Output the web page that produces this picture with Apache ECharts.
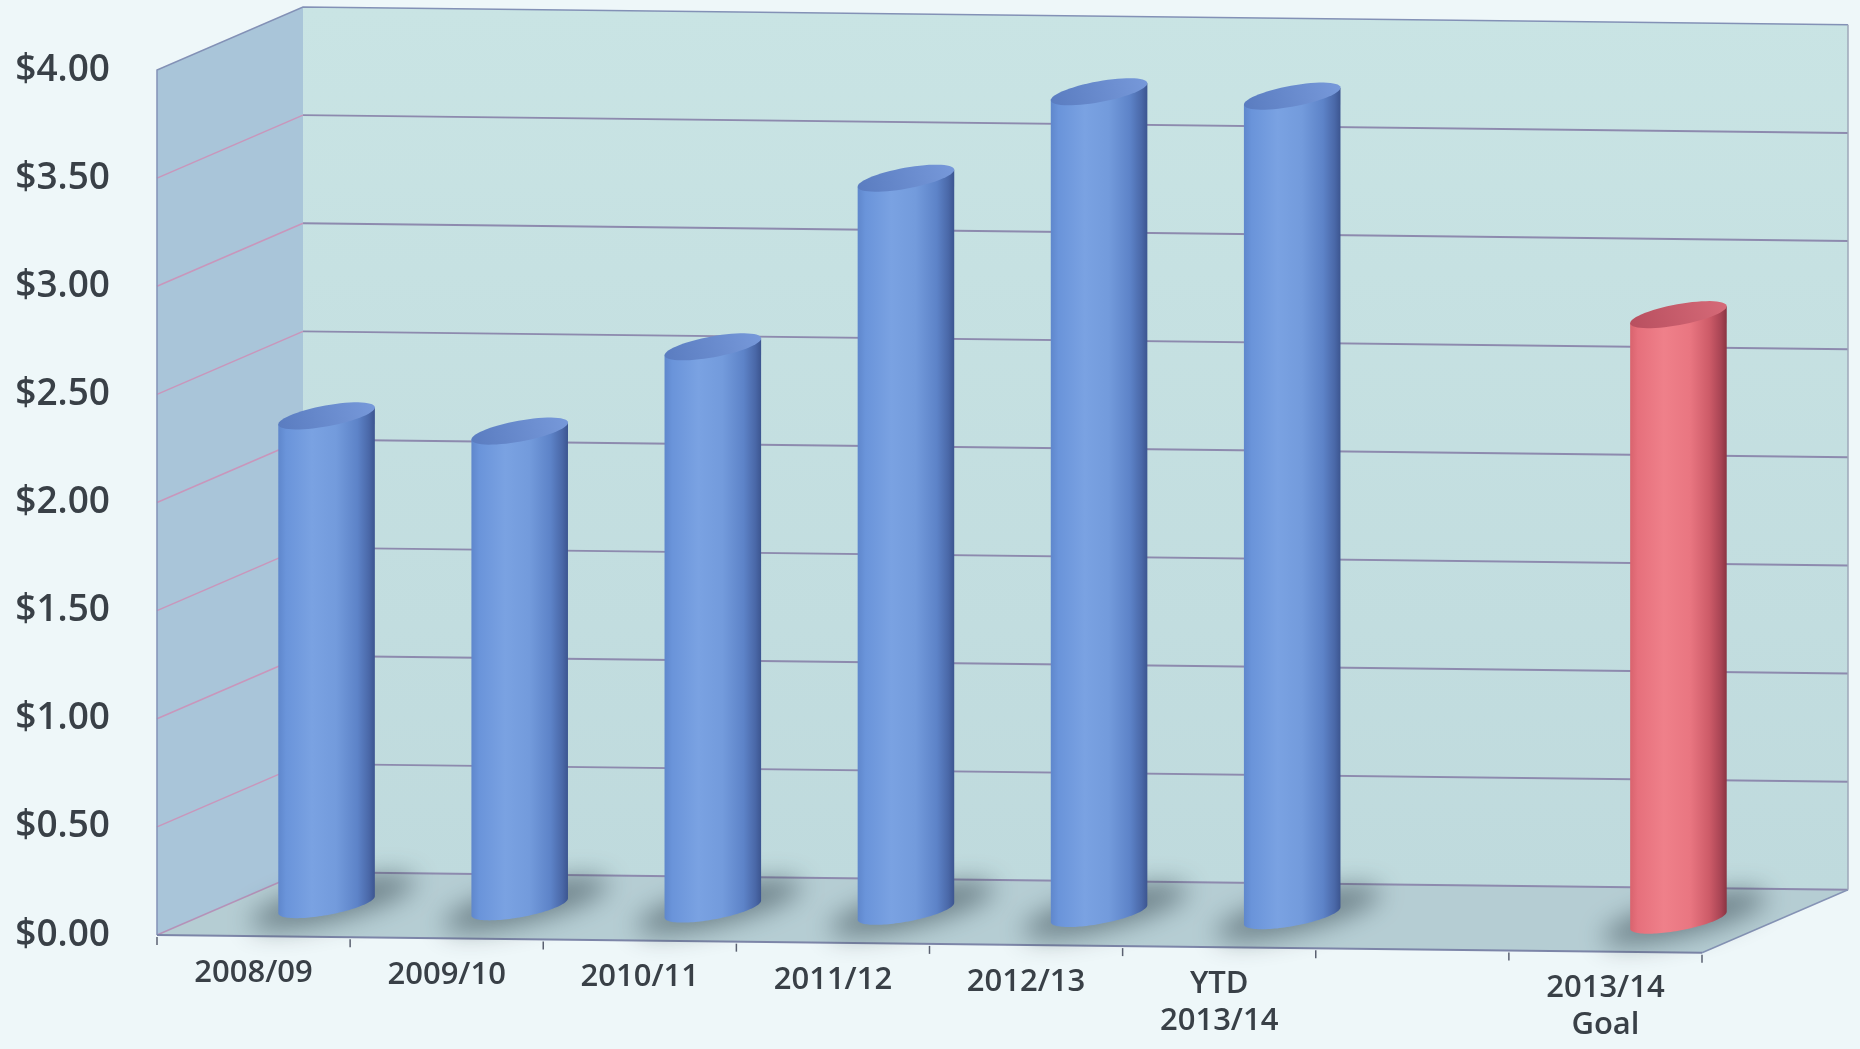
<!DOCTYPE html>
<html>
<head>
<meta charset="utf-8">
<script src="https://cdn.jsdelivr.net/npm/echarts@6/dist/echarts.min.js"></script>
<style>
  html, body { margin: 0; padding: 0; background: #eef7f9; }
  #chart { width: 1860px; height: 1049px; }
</style>
</head>
<body>
<div id="chart"></div>
<script>
// Categories along the floor (one empty slot separates the goal column)
const categories = ['2008/09', '2009/10', '2010/11', '2011/12', '2012/13', 'YTD\n2013/14', '', '2013/14\nGoal'];
// Dollar values per category
const actualValues = [2.26, 2.20, 2.60, 3.39, 3.80, 3.79, null, null];
const goalValues   = [null, null, null, null, null, null, null, 2.80];
// Value-axis ticks
const yTicks = [0, 0.5, 1, 1.5, 2, 2.5, 3, 3.5, 4];

// 3D look: screen offset from the front plane to the back wall, and a slight slope
const DEPTH = [146, -63];
const SHEAR = 0.0115;
const FONT = '"Open Sans", "DejaVu Sans", sans-serif';
const TEXT_COLOR = '#394047';

// Map a front-plane pixel (from the axes) into the sloped, depth-shifted plane
function proj(params, p, depth) {
  const x0 = params.coordSys.x;
  return [p[0] + DEPTH[0] * depth, p[1] + DEPTH[1] * depth + SHEAR * (p[0] - x0)];
}

function renderFrame(params, api) {
  const cs = params.coordSys;
  const xl = cs.x, xr = cs.x + cs.width;
  const top = yTicks[yTicks.length - 1];
  const P = (x, v, d) => proj(params, [x, api.coord([0, v])[1]], d);
  const kids = [];
  const poly = (pts, fill) => kids.push({ type: 'polygon', shape: { points: pts }, style: { fill: fill }, silent: true });
  const line = (a, b, stroke, w) => kids.push({ type: 'line', shape: { x1: a[0], y1: a[1], x2: b[0], y2: b[1] }, style: { stroke: stroke, lineWidth: w }, silent: true });

  // back wall, side wall, floor
  poly([P(xl, top, 1), P(xr, top, 1), P(xr, 0, 1), P(xl, 0, 1)], new echarts.graphic.LinearGradient(0, 0, 0, 1, [
    { offset: 0, color: '#c9e4e4' }, { offset: 1, color: '#bfdadd' }
  ]));
  poly([P(xl, top, 0), P(xl, top, 1), P(xl, 0, 1), P(xl, 0, 0)], '#a9c5d9');
  poly([P(xl, 0, 0), P(xr, 0, 0), P(xr, 0, 1), P(xl, 0, 1)], '#b5cdd3');

  // grid lines on the back and side walls
  yTicks.forEach(v => {
    if (v <= 0 || v >= top) return;
    line(P(xl, v, 1), P(xr, v, 1), '#8d8aae', 2);
    line(P(xl, v, 0), P(xl, v, 1), '#c996bb', 1.5);
  });

  // floor lines
  line(P(xl, 0, 1), P(xr, 0, 1), '#8d8aae', 2);
  line(P(xl, 0, 0), P(xl, 0, 1), '#b592b8', 1.5);
  line(P(xr, 0, 0), P(xr, 0, 1), '#8593b5', 1.5);

  // outer edges
  kids.push({
    type: 'polyline', silent: true,
    shape: { points: [P(xl, 0, 0), P(xl, top, 0), P(xl, top, 1), P(xr, top, 1)] },
    style: { stroke: '#8391b6', lineWidth: 1.5, fill: null }
  });
  line(P(xr, top, 1), P(xr, 0, 1), '#9ea7b8', 1.5);
  line(P(xl, 0, 0), P(xr, 0, 0), '#7c85a8', 2);

  return { type: 'group', children: kids };
}

function ellipseGeom(params, api) {
  const bw = api.size([1, 0])[0];
  const halfW = bw * 0.25;
  const q = 0.215;
  const vx = DEPTH[0] * q, vy = DEPTH[1] * q;
  const r = Math.sqrt(Math.max(halfW * halfW - vx * vx, 1));
  return { ux: r, uy: r * SHEAR, vx: vx, vy: vy };
}

function ellPt(c, g, t, s) {
  s = s || 1;
  return [c[0] + s * (g.ux * Math.cos(t) + g.vx * Math.sin(t)),
          c[1] + s * (g.uy * Math.cos(t) + g.vy * Math.sin(t))];
}

function renderShadow(params, api) {
  const i = api.value(0), v = api.value(1);
  if (v == null || isNaN(v)) return null;
  const g = ellipseGeom(params, api);
  const base = proj(params, api.coord([i, 0]), 0.5);
  const c = [base[0] + g.vx * 0.2, base[1] + g.vy * 0.2];
  const pts = [];
  const N = 48, SHIFT = 4000;
  for (let k = 0; k < N; k++) {
    const t = 2 * Math.PI * k / N;
    // stretched along the depth direction so it reaches front-left and back-right
    const p = [c[0] + 1.45 * g.ux * Math.cos(t) + 2.0 * g.vx * Math.sin(t),
               c[1] + 1.45 * g.uy * Math.cos(t) + 2.0 * g.vy * Math.sin(t)];
    pts.push([p[0] + SHIFT, p[1]]);
  }
  return {
    type: 'polygon', silent: true,
    shape: { points: pts },
    style: { fill: '#000', shadowColor: 'rgba(50,65,75,0.55)', shadowBlur: 26, shadowOffsetX: -SHIFT }
  };
}

function cylinderRenderer(bodyStops, topStops) {
  return function (params, api) {
    const i = api.value(0), v = api.value(1);
    if (v == null || isNaN(v)) return null;
    const g = ellipseGeom(params, api);
    const base = proj(params, api.coord([i, 0]), 0.5);
    const topC = proj(params, api.coord([i, v]), 0.5);
    const t0 = Math.atan2(g.vx, g.ux);
    const N = 60;
    const body = [ellPt(topC, g, t0)];
    for (let k = 0; k <= N; k++) body.push(ellPt(base, g, t0 - Math.PI * k / N));
    body.push(ellPt(topC, g, t0 - Math.PI));
    const cap = [];
    for (let k = 0; k < N; k++) cap.push(ellPt(topC, g, 2 * Math.PI * k / N));
    return {
      type: 'group',
      children: [
        { type: 'polygon', shape: { points: body },
          style: { fill: new echarts.graphic.LinearGradient(0, 0, 1, 0, bodyStops) } },
        { type: 'polygon', shape: { points: cap },
          style: { fill: new echarts.graphic.LinearGradient(0, 1, 1, 0, topStops) } }
      ]
    };
  };
}

const blueBody = [
  { offset: 0, color: '#5f87cc' }, { offset: 0.08, color: '#6a94da' },
  { offset: 0.35, color: '#7aa2e2' }, { offset: 0.6, color: '#739bdc' },
  { offset: 0.82, color: '#5d83c8' }, { offset: 0.94, color: '#4a68a8' },
  { offset: 1, color: '#3c5590' }
];
const blueTop = [
  { offset: 0, color: '#5a7cc0' }, { offset: 1, color: '#7799da' }
];
const redBody = [
  { offset: 0, color: '#d9636e' }, { offset: 0.08, color: '#e6707c' },
  { offset: 0.35, color: '#ef808a' }, { offset: 0.62, color: '#e97681' },
  { offset: 0.82, color: '#cd5b68' }, { offset: 0.94, color: '#a84454' },
  { offset: 1, color: '#8a3442' }
];
const redTop = [
  { offset: 0, color: '#b84f5f' }, { offset: 1, color: '#d66a78' }
];

function renderCategoryLabels(params, api) {
  const i = api.value(0);
  const bw = api.size([1, 0])[0];
  const c = api.coord([i, 0]);
  const kids = [];
  const tick = (px) => {
    const a = proj(params, [px, c[1]], 0);
    kids.push({ type: 'line', silent: true, shape: { x1: a[0], y1: a[1] + 2, x2: a[0], y2: a[1] + 10 },
      style: { stroke: '#5a6070', lineWidth: 1.5 } });
  };
  tick(c[0] - bw / 2);
  if (i === categories.length - 1) tick(c[0] + bw / 2);
  const text = categories[params.dataIndex];
  if (text) {
    const p = proj(params, c, 0);
    kids.push({
      type: 'text', silent: true,
      x: p[0], y: p[1] + 18.5,
      style: {
        text: text, align: 'center', verticalAlign: 'top',
        fontSize: 31, fontWeight: 600, fontFamily: FONT, lineHeight: 37, fill: TEXT_COLOR
      }
    });
  }
  return { type: 'group', children: kids };
}

const chart = echarts.init(document.getElementById('chart'), null, { renderer: 'canvas' });
chart.setOption({
  backgroundColor: '#eef7f9',
  animation: false,
  grid: { left: 157, top: 70, width: 1545, height: 865 },
  xAxis: {
    type: 'category', data: categories,
    axisLine: { show: false }, axisTick: { show: false },
    axisLabel: { show: false }, splitLine: { show: false }
  },
  yAxis: {
    type: 'value', min: 0, max: 4, interval: 0.5,
    axisLine: { show: false }, axisTick: { show: false }, splitLine: { show: false },
    axisLabel: {
      formatter: v => '$' + v.toFixed(2),
      fontSize: 37, fontWeight: 600, fontFamily: FONT, color: TEXT_COLOR, margin: 47
    }
  },
  series: [
    { type: 'custom', name: 'frame', renderItem: renderFrame, data: [[0, 0]], clip: false, silent: true, z: 1 },
    { type: 'custom', name: 'shadow', renderItem: renderShadow,
      data: actualValues.map((v, i) => [i, v != null ? v : goalValues[i]]), clip: false, silent: true, z: 2 },
    { type: 'custom', name: 'Actual', renderItem: cylinderRenderer(blueBody, blueTop),
      data: actualValues.map((v, i) => [i, v]), clip: false, z: 3 },
    { type: 'custom', name: 'Goal', renderItem: cylinderRenderer(redBody, redTop),
      data: goalValues.map((v, i) => [i, v]), clip: false, z: 3 },
    { type: 'custom', name: 'labels', renderItem: renderCategoryLabels,
      data: categories.map((c, i) => [i, 0]), clip: false, silent: true, z: 4 }
  ]
});
</script>
</body>
</html>
